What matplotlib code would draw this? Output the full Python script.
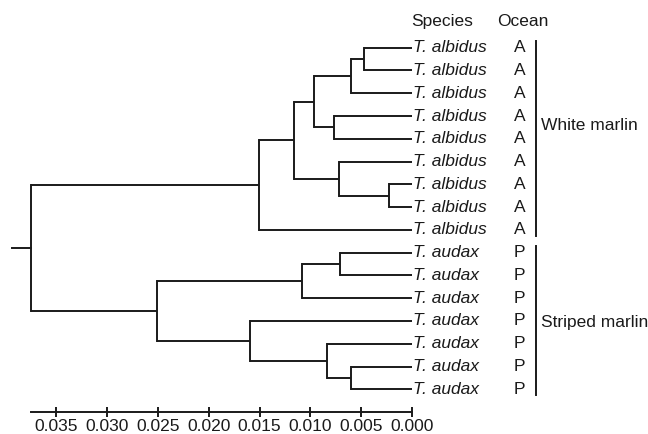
import matplotlib
matplotlib.use('Agg')
import matplotlib.pyplot as plt

plt.rcParams['font.family'] = ['Liberation Sans', 'DejaVu Sans']

# leaves, top to bottom
species = ["T. albidus"] * 9 + ["T. audax"] * 7
ocean = ["A"] * 9 + ["P"] * 7

# merges: (left child, right child, distance); leaves are 0-15, new nodes 16+
merges = [
    (0, 1, 0.0047),
    (16, 2, 0.0060),
    (3, 4, 0.0077),
    (17, 18, 0.0096),
    (6, 7, 0.0023),
    (5, 20, 0.0072),
    (19, 21, 0.0116),
    (22, 8, 0.0151),
    (9, 10, 0.0071),
    (24, 11, 0.0108),
    (14, 15, 0.0060),
    (13, 26, 0.0084),
    (12, 27, 0.0159),
    (25, 28, 0.0251),
    (23, 29, 0.0375),
]
root_stub = 0.0394

groups = ["White marlin", "Striped marlin"]
group_leaves = [(0, 8), (9, 15)]
group_label_pos = [3.4, 12.05]

ticks = [0.035, 0.030, 0.025, 0.020, 0.015, 0.010, 0.005, 0.000]

fig = plt.figure(figsize=(6.48, 4.34), dpi=100)
ax = fig.add_axes([0, 0.05, 1, 0.95])

# node positions
ys = {i: float(i) for i in range(len(species))}
xs = {i: 0.0 for i in range(len(species))}
lw = 1.4
col = '#1a1a1a'
for k, (a, b, h) in enumerate(merges):
    n = len(species) + k
    ys[n] = (ys[a] + ys[b]) / 2
    xs[n] = h
    ax.plot([h, h], [ys[a], ys[b]], color=col, lw=lw, solid_capstyle='projecting')
    for c in (a, b):
        ax.plot([h, xs[c]], [ys[c], ys[c]], color=col, lw=lw, solid_capstyle='butt')
root = len(species) + len(merges) - 1
ax.plot([root_stub, xs[root]], [ys[root], ys[root]], color=col, lw=lw)

fs = 12.5
for i, (s, o) in enumerate(zip(species, ocean)):
    ax.text(-0.0001, i, s, style='italic', fontsize=fs, va='center', ha='left', color=col)
    ax.text(-0.0106, i, o, fontsize=fs, va='center', ha='center', color=col)

ax.text(-0.0030, -1.15, "Species", fontsize=fs, va='center', ha='center', color=col)
ax.text(-0.0109, -1.15, "Ocean", fontsize=fs, va='center', ha='center', color=col)

for g, (s, e), gy in zip(groups, group_leaves, group_label_pos):
    ax.plot([-0.0122, -0.0122], [s - 0.28, e + 0.25], color=col, lw=1.4)
    ax.text(-0.0127, gy, g, fontsize=fs, va='center', ha='left', color=col)

ax.set_xlim(412 / 10160, (412 - 648) / 10160)
ax.set_ylim(16.01, -2.095)
for side in ('left', 'right', 'top'):
    ax.spines[side].set_visible(False)
ax.spines['bottom'].set_bounds(0.0, 0.0375)
ax.spines['bottom'].set_linewidth(1.4)
ax.spines['bottom'].set_color(col)
ax.set_yticks([])
ax.set_xticks(ticks)
ax.set_xticklabels(['%.3f' % t for t in ticks])
ax.tick_params(axis='x', direction='inout', length=7, width=1.4, labelsize=fs,
               pad=1, colors=col)

fig.savefig('out.png', dpi=100)
